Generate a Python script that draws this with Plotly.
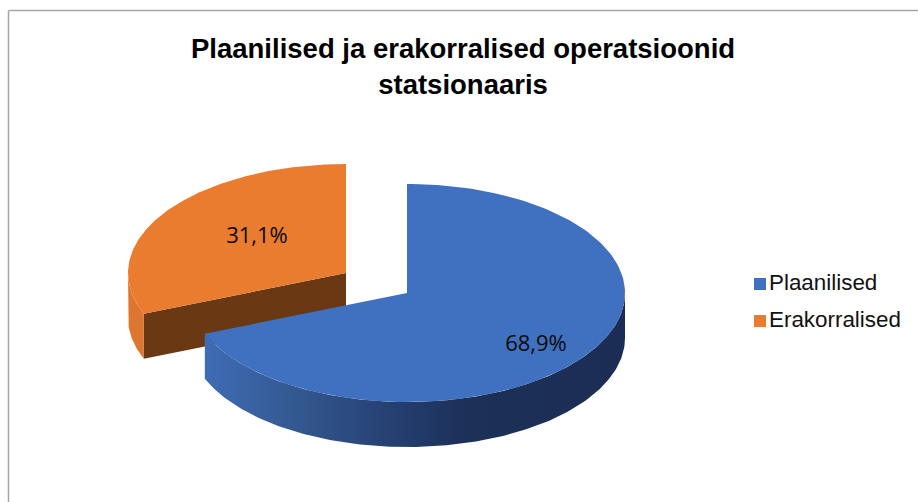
import numpy as np
import plotly.graph_objects as go

# Data
categories = ["Plaanilised", "Erakorralised"]
values = [68.9, 31.1]

# Style and layout constants (pixels on hidden axes)
W, H = 918, 502
TITLE = "Plaanilised ja erakorralised operatsioonid<br>statsionaaris"
RX, RY, DEPTH = 218, 109, 45
CENTERS = [(407, 293), (346, 273)]
LABEL_POS = [(536, 345), (257, 237)]
TOP_COLORS = ["#4070c0", "#ea7c30"]
BROWN = "#6a3812"
ORANGE_WALL = "#dd7630"
BLUE_WALL = [[0, "#3f6cb6"], [0.22, "#33588f"], [0.45, "#253f72"],
             [0.62, "#1c3058"], [1, "#1b2d54"]]
LEGEND_X = 760
LEGEND_TEXT_X = 769
LEGEND_Y = [284, 321]


def arc(c, t0, t1, dy=0, n=160):
    t = np.radians(np.linspace(t0, t1, n))
    return c[0] + RX * np.sin(t), c[1] - RY * np.cos(t) + dy


def poly(xs, ys, **kw):
    return go.Scatter(x=list(xs), y=list(ys), mode="lines", fill="toself",
                      line=dict(width=0), hoverinfo="skip", showlegend=False, **kw)


split = values[0] / sum(values) * 360
blue_c, orange_c = CENTERS
fig = go.Figure()

# Orange slice: cut wall, outer wall, top
ox, oy = arc(orange_c, split, split, n=1)
fig.add_trace(poly([orange_c[0], ox[0], ox[0], orange_c[0]],
                   [orange_c[1], oy[0], oy[0] + DEPTH, orange_c[1] + DEPTH],
                   fillcolor=BROWN))
ax, ay = arc(orange_c, split, 270, 0, 40)
bx, by = arc(orange_c, 270, split, DEPTH, 40)
fig.add_trace(poly(np.r_[ax, bx], np.r_[ay, by], fillcolor=ORANGE_WALL))
ax, ay = arc(orange_c, split, 360)
fig.add_trace(poly(np.r_[orange_c[0], ax], np.r_[orange_c[1], ay],
                   fillcolor=TOP_COLORS[1], name=categories[1]))

# Blue slice: outer wall with gradient, top
ax, ay = arc(blue_c, 90, split)
bx, by = arc(blue_c, split, 90, DEPTH)
fig.add_trace(poly(np.r_[ax, bx], np.r_[ay, by],
                   fillgradient=dict(type="horizontal", colorscale=BLUE_WALL)))
ax, ay = arc(blue_c, 0, split)
fig.add_trace(poly(np.r_[blue_c[0], ax], np.r_[blue_c[1], ay],
                   fillcolor=TOP_COLORS[0], name=categories[0]))

# Percentage labels
fig.add_trace(go.Scatter(
    x=[p[0] for p in LABEL_POS], y=[p[1] for p in LABEL_POS],
    mode="text", text=[f"{v:.1f}%".replace(".", ",") for v in values],
    textposition="middle center",
    textfont=dict(family="Open Sans", size=22, color="#0a0a0a"),
    hoverinfo="skip", showlegend=False))

# Legend keys and texts
fig.add_trace(go.Scatter(
    x=[LEGEND_X] * 2, y=LEGEND_Y, mode="markers",
    marker=dict(symbol="square", size=12, color=TOP_COLORS),
    hoverinfo="skip", showlegend=False))
fig.add_trace(go.Scatter(
    x=[LEGEND_TEXT_X] * 2, y=LEGEND_Y, mode="text",
    text=categories, textposition="middle right",
    textfont=dict(family="Liberation Sans", size=22.4, color="#111111"),
    hoverinfo="skip", showlegend=False))

fig.update_layout(
    width=W, height=H, autosize=False,
    margin=dict(l=0, r=0, t=0, b=0),
    paper_bgcolor="white", plot_bgcolor="white",
    xaxis=dict(range=[0, W], visible=False, fixedrange=True),
    yaxis=dict(range=[H, 0], visible=False, fixedrange=True),
    annotations=[dict(text="<b>" + TITLE.replace("<br>", "</b><br><b>") + "</b>",
                      x=462.5, y=66, xref="x", yref="y",
                      xanchor="center", yanchor="middle", align="center", showarrow=False,
                      font=dict(family="Liberation Sans", size=27.5, color="#000000"))],
    shapes=[dict(type="line", xref="x", yref="y", x0=8.5, x1=8.5, y0=10.5, y1=H,
                 line=dict(color="#a6a6a6", width=1.5)),
            dict(type="line", xref="x", yref="y", x0=8.5, x1=W, y0=10.5, y1=10.5,
                 line=dict(color="#a6a6a6", width=1.5))],
)

fig.write_html("out.html", config=dict(displayModeBar=False),
               post_script="document.body.style.margin='0';document.body.style.overflow='hidden';")
